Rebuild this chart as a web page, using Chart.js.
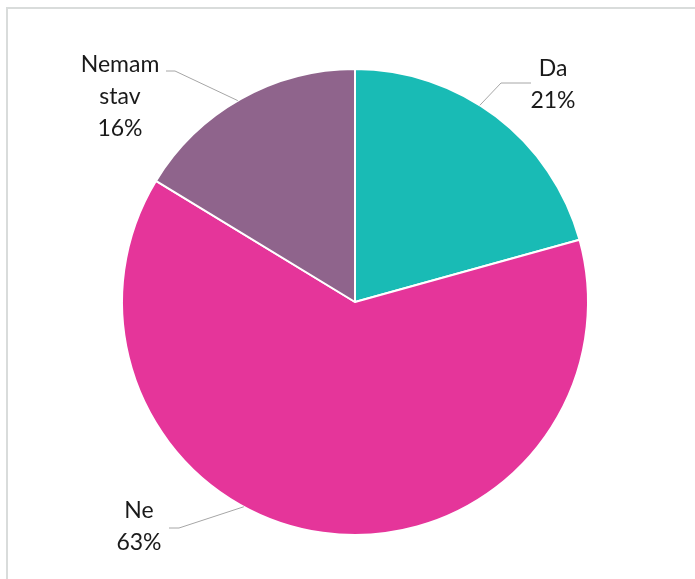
<!DOCTYPE html>
<html>
<head>
<meta charset="utf-8">
<script src="https://cdn.jsdelivr.net/npm/chart.js@4/dist/chart.umd.min.js"></script>
<style>
    html, body { margin: 0; padding: 0; background: #fff; }
    #wrap { width: 695px; height: 579px; position: relative; }
</style>
</head>
<body>
<div id="wrap"><canvas id="myChart" width="695" height="579"></canvas></div>
<script>
// data
const categories = ['Da', 'Ne', 'Nemam stav'];
const values = [20.7, 63.0, 16.3];
const colors = ['#19bbb5', '#e5359a', '#8f648c'];

// label placement (text centre x, first baseline, leader edge angle in deg, elbow, line end)
const labelLayout = [
    {x: 553, y: 76, wrap: false, angle: -57.6, elbow: [501, 83], end: [531, 83]},
    {x: 139, y: 518, wrap: false, angle: 118.5, elbow: [179, 528], end: [169, 528]},
    {x: 120, y: 72, wrap: true, angle: -120.2, elbow: [175, 71], end: [166, 71]}
];

const frameAndLabels = {
    id: 'frameAndLabels',
    beforeDraw: function (chart) {
        const c = chart.ctx;
        c.save();
        c.strokeStyle = '#d9dcdb';
        c.lineWidth = 2;
        c.beginPath();
        c.moveTo(7, chart.height);
        c.lineTo(7, 8);
        c.lineTo(chart.width, 8);
        c.stroke();
        c.restore();
    },
    afterDraw: function (chart) {
        const c = chart.ctx, meta = chart.getDatasetMeta(0);
        const total = values.reduce((a, b) => a + b, 0);
        c.save();
        meta.data.forEach(function (arc, i) {
            const l = labelLayout[i];
            const a = l.angle * Math.PI / 180;
            const sx = arc.x + arc.outerRadius * Math.cos(a), sy = arc.y + arc.outerRadius * Math.sin(a);
            c.strokeStyle = '#a6a6a6';
            c.lineWidth = 1;
            c.beginPath();
            c.moveTo(sx, sy);
            c.lineTo(l.elbow[0], l.elbow[1]);
            c.lineTo(l.end[0], l.end[1]);
            c.stroke();

            let lines = l.wrap ? categories[i].split(' ') : [categories[i]];
            lines.push(Math.round(values[i] / total * 100) + '%');
            c.fillStyle = '#1a1a1a';
            c.font = '23px Lato';
            c.textAlign = 'center';
            c.textBaseline = 'alphabetic';
            lines.forEach(function (t, j) {
                c.fillText(t, l.x, l.y + j * 32);
            });
        });
        c.restore();
    }
};

const ctx = document.getElementById('myChart');
let myChart = new Chart(ctx, {
    type: 'pie',
    data: {
        labels: categories,
        datasets: [{
            data: values,
            backgroundColor: colors,
            borderColor: '#ffffff',
            borderWidth: 2
        }]
    },
    options: {
        responsive: false,
        animation: false,
        layout: {padding: {top: 68, bottom: 43, left: 121, right: 106}},
        plugins: {legend: {display: false}, tooltip: {enabled: false}}
    },
    plugins: [frameAndLabels]
});
</script>
</body>
</html>
